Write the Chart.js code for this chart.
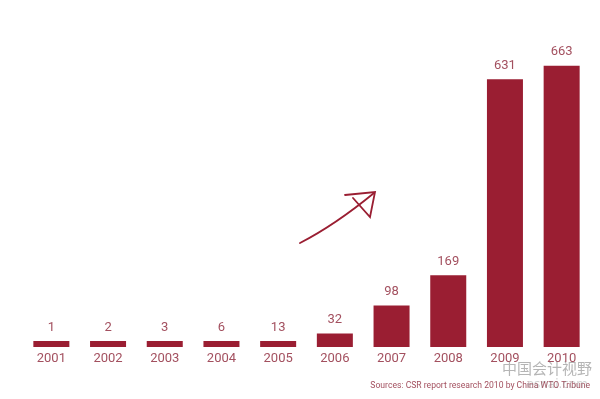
<!DOCTYPE html>
<html>
<head>
<meta charset="utf-8">
<script src="https://cdn.jsdelivr.net/npm/chart.js@4"></script>
<style>
  html, body { margin: 0; padding: 0; background: #fff; }
  #wrap { width: 600px; height: 399px; }
</style>
</head>
<body>
<div id="wrap"><canvas id="reports"></canvas></div>
<script>
// numero de relatorios CSR por ano
const years = ['2001', '2002', '2003', '2004', '2005', '2006', '2007', '2008', '2009', '2010'];
const reports = [1, 2, 3, 6, 13, 32, 98, 169, 631, 663];
const source = 'Sources: CSR report research 2010 by China WTO Tribune';

const barRed = '#9a1e32';
const textRed = '#a3505f';

// rotulos em cima das barras
const valueLabels = {
  id: 'valueLabels',
  afterDatasetsDraw(chart) {
    const ctx = chart.ctx;
    const meta = chart.getDatasetMeta(0);
    ctx.save();
    ctx.font = '13px Roboto';
    ctx.fillStyle = textRed;
    ctx.textAlign = 'center';
    ctx.textBaseline = 'bottom';
    meta.data.forEach((bar, i) => {
      ctx.fillText(reports[i], bar.x, bar.y - 7);
    });
    ctx.restore();
  }
};

// seta desenhada a mao + marca d'agua
const extras = {
  id: 'extras',
  afterDraw(chart) {
    const ctx = chart.ctx;
    ctx.save();
    ctx.strokeStyle = barRed;
    ctx.lineWidth = 1.8;
    ctx.lineCap = 'round';
    ctx.beginPath();
    ctx.moveTo(300, 243);
    ctx.quadraticCurveTo(335, 225, 374, 193);
    ctx.stroke();
    ctx.beginPath();
    ctx.moveTo(345, 195);
    ctx.lineTo(375, 192);
    ctx.lineTo(370, 217);
    ctx.lineTo(353, 198);
    ctx.stroke();

    ctx.fillStyle = 'rgba(120,120,120,0.55)';
    ctx.font = '15px "Noto Sans CJK SC"';
    ctx.textAlign = 'right';
    ctx.textBaseline = 'middle';
    ctx.fillText('中国会计视野', 592, 368);
    ctx.font = '12px "DejaVu Sans"';
    ctx.fillStyle = 'rgba(120,120,120,0.35)';
    ctx.fillText('esnai.com', 588, 385);
    ctx.restore();
  }
};

new Chart(document.getElementById('reports'), {
  type: 'bar',
  data: {
    labels: years,
    datasets: [{
      data: reports,
      backgroundColor: barRed,
      borderWidth: 0,
      barPercentage: 0.635,
      categoryPercentage: 1,
      minBarLength: 6
    }]
  },
  options: {
    responsive: true,
    maintainAspectRatio: false,
    animation: false,
    layout: { padding: { top: 50, left: 23, right: 10, bottom: 0 } },
    plugins: {
      legend: { display: false },
      tooltip: { enabled: false },
      title: {
        display: true,
        text: source,
        position: 'bottom',
        align: 'end',
        color: textRed,
        font: { family: 'Roboto', size: 8.6, weight: 'normal' },
        padding: { top: 18, bottom: 8 }
      }
    },
    scales: {
      x: {
        grid: { display: false },
        border: { display: false },
        ticks: {
          color: textRed,
          padding: -4,
          font: { family: 'Roboto', size: 13 }
        }
      },
      y: {
        display: false,
        min: 0,
        max: 700
      }
    }
  },
  plugins: [valueLabels, extras]
});
</script>
</body>
</html>
